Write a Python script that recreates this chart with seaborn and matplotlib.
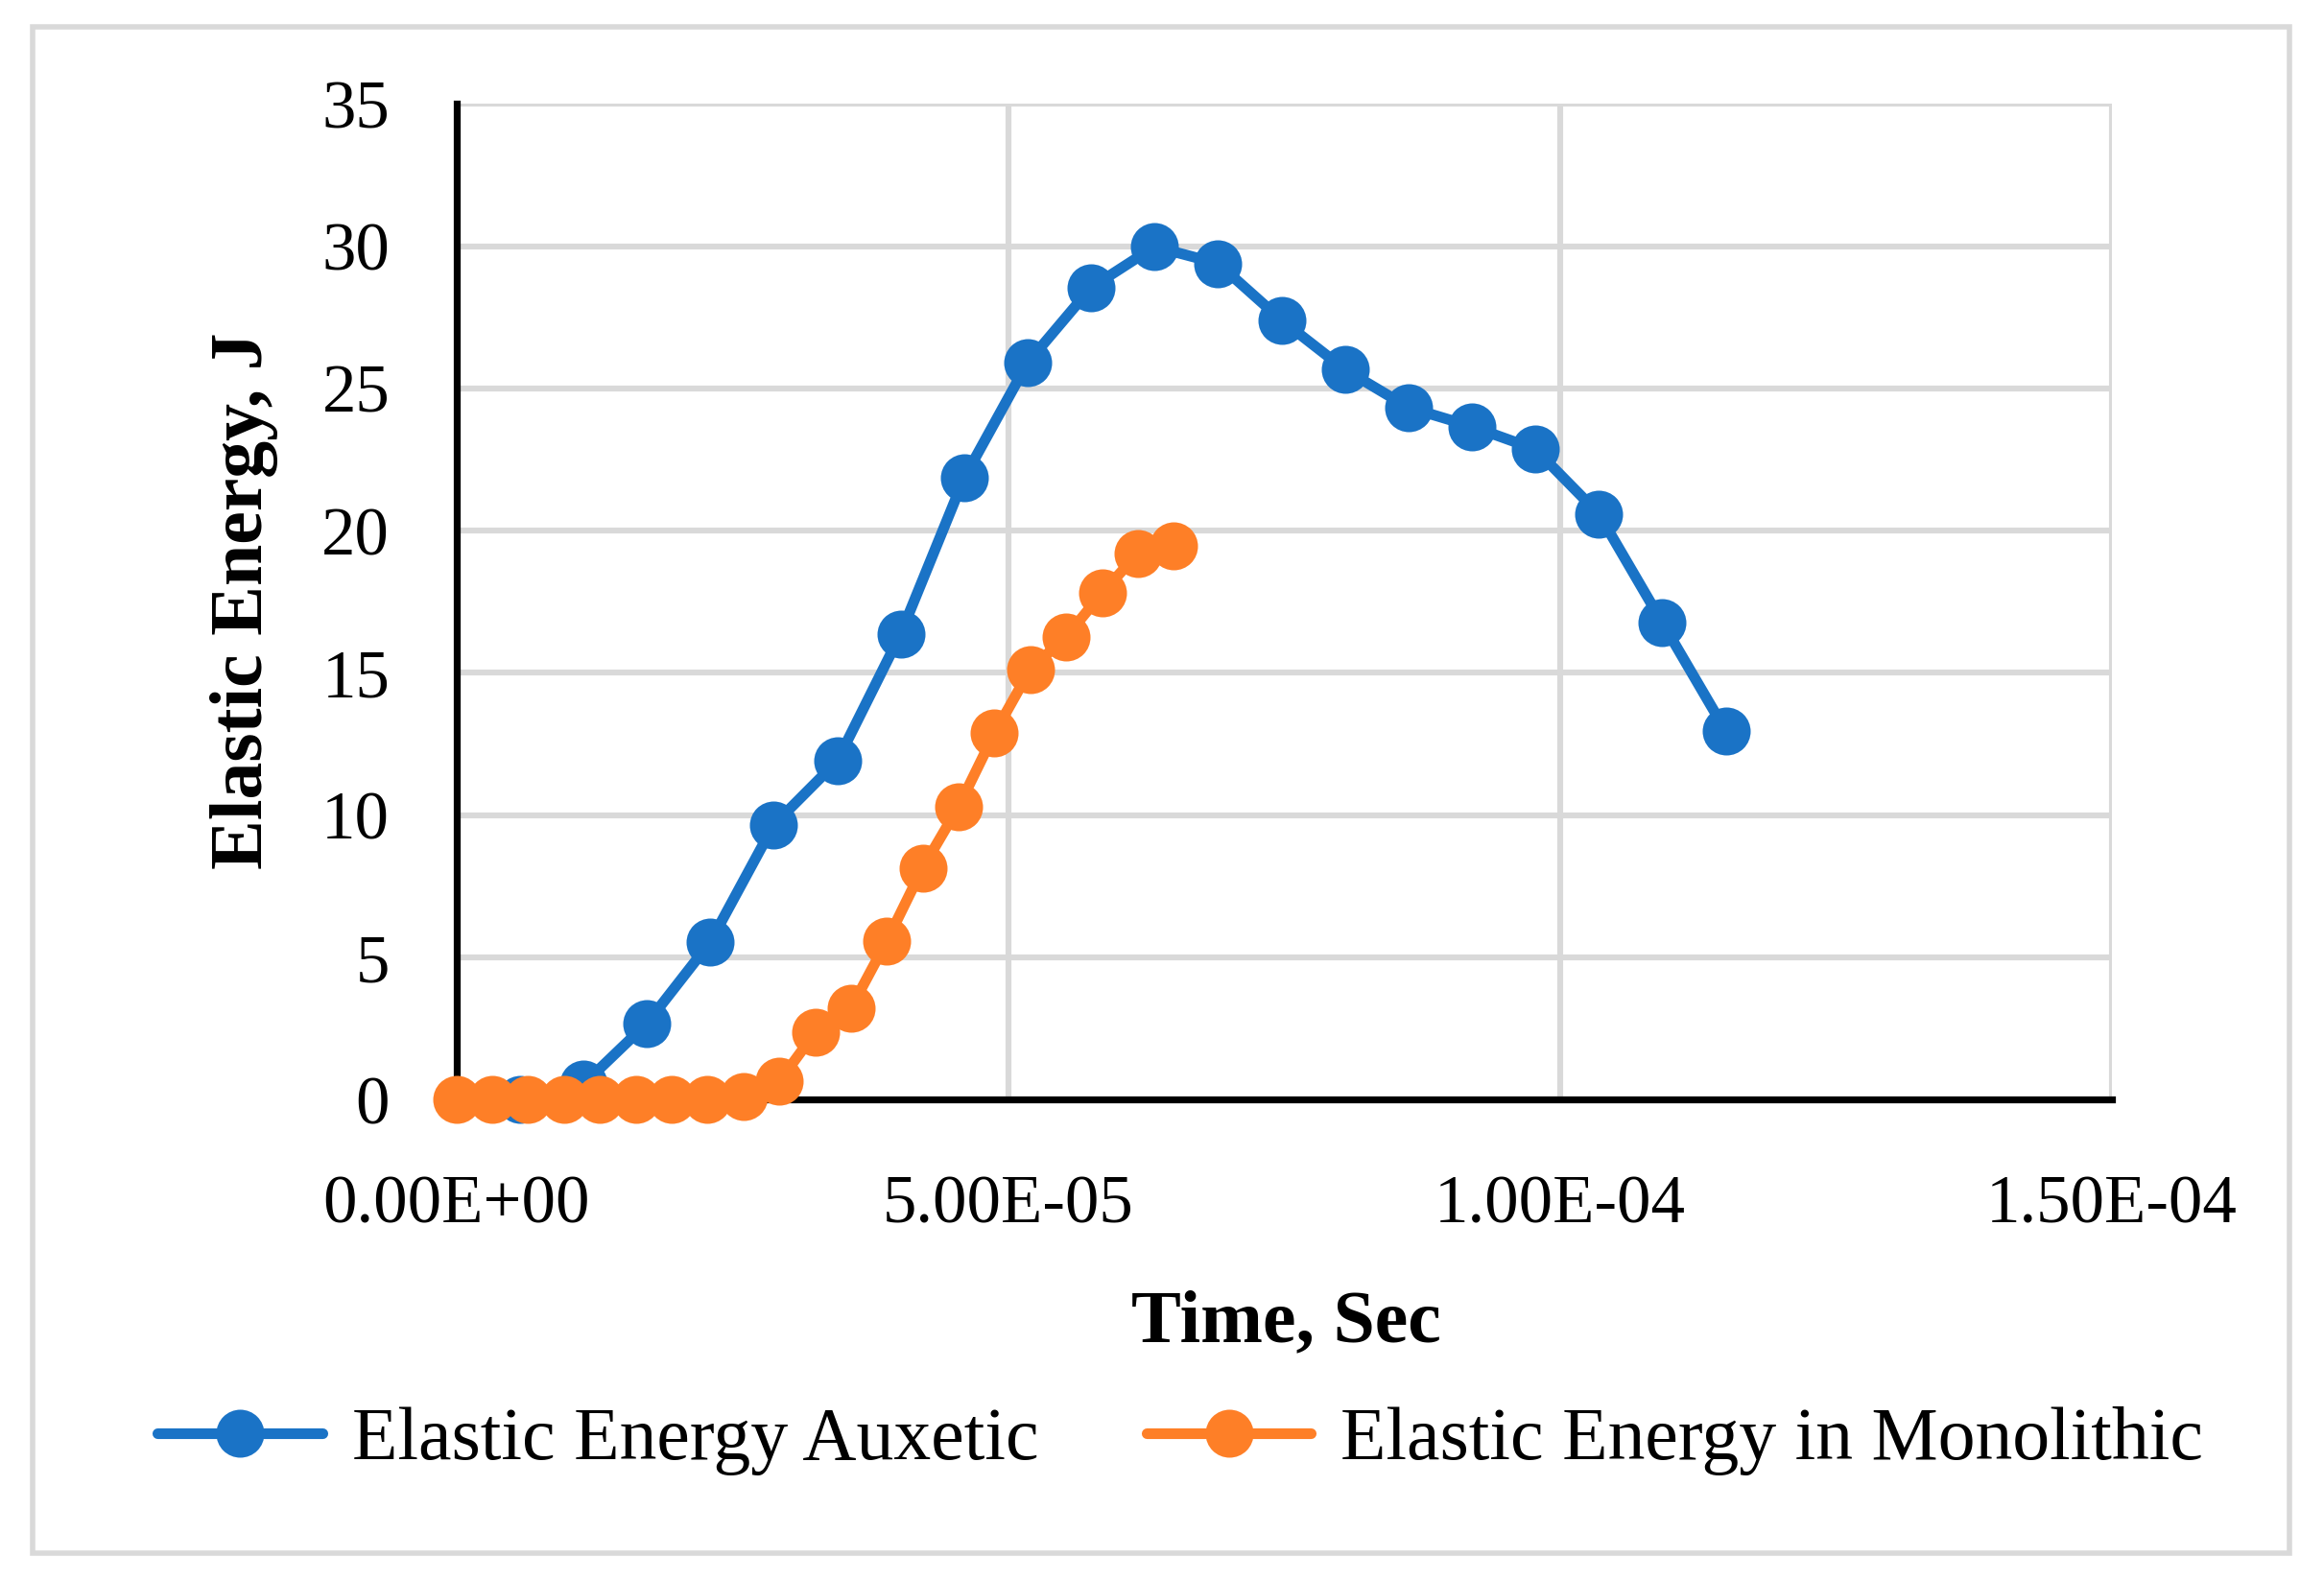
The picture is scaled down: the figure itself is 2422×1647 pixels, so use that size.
import matplotlib
matplotlib.use("Agg")
import matplotlib.pyplot as plt
import seaborn as sns
import pandas as pd
from matplotlib.patches import Rectangle

# ---- data ----
auxetic_time = [5.75e-6 * k for k in range(1, 21)]
auxetic_energy = [0.0, 0.54, 2.68, 5.54, 9.66, 11.9, 16.37, 21.85, 25.9, 28.54,
                  29.98, 29.39, 27.40, 25.66, 24.33, 23.66, 22.86, 20.59, 16.77, 12.96]
mono_time = [3.25e-6 * k for k in range(0, 21)]
mono_energy = [0.0, 0.0, 0.0, 0.0, 0.0, 0.0, 0.0, 0.0, 0.1, 0.64,
               2.36, 3.22, 5.58, 8.15, 10.3, 12.88, 15.13, 16.27, 17.81, 19.2, 19.46]
x_ticks = [0.0, 5e-5, 1e-4, 1.5e-4]
x_tick_labels = ["0.00E+00", "5.00E-05", "1.00E-04", "1.50E-04"]
y_ticks = [0, 5, 10, 15, 20, 25, 30, 35]
series_names = ["Elastic Energy Auxetic", "Elastic Energy in Monolithic"]
colors = ["#1A73C6", "#FE7F27"]

df_a = pd.DataFrame({"t": auxetic_time, "E": auxetic_energy})
df_m = pd.DataFrame({"t": mono_time, "E": mono_energy})

sns.set_theme(style="white")
plt.rcParams["font.family"] = ["Liberation Serif", "DejaVu Serif"]
plt.rcParams["text.color"] = "black"

fig = plt.figure(figsize=(12.11, 8.235), dpi=200)
ax = fig.add_axes([0.1964, 0.304, 0.7124, 0.6303])

# outer border
fig.patches.append(Rectangle((0.014, 0.017), 0.9713, 0.966, transform=fig.transFigure,
                             fill=False, edgecolor="#d9d9d9", linewidth=2.0))

sns.lineplot(data=df_a, x="t", y="E", ax=ax, color=colors[0], marker="o",
             markersize=18, linewidth=4.0, markeredgewidth=0, label=series_names[0],
             zorder=3, clip_on=False)
sns.lineplot(data=df_m, x="t", y="E", ax=ax, color=colors[1], marker="o",
             markersize=18, linewidth=4.0, markeredgewidth=0, label=series_names[1],
             zorder=4, clip_on=False)

ax.set_xlim(0, 1.5e-4)
ax.set_ylim(0, 35)
ax.set_xticks(x_ticks)
ax.set_xticklabels(x_tick_labels)
ax.set_yticks(y_ticks)
ax.set_yticklabels([str(v) for v in y_ticks])
ax.tick_params(axis="x", length=0, pad=28, labelsize=25.5, colors="black")
ax.tick_params(axis="y", length=0, pad=25, labelsize=25.5, colors="black")

ax.grid(True, color="#d9d9d9", linewidth=2.2)
ax.set_axisbelow(True)
for s in ["top", "right"]:
    ax.spines[s].set_visible(False)
for s in ["left", "bottom"]:
    ax.spines[s].set_color("black")
    ax.spines[s].set_linewidth(2.6)
    ax.spines[s].set_zorder(2.5)

ax.set_xlabel("Time, Sec", fontsize=28, fontweight="bold", color="black")
ax.set_ylabel("Elastic Energy, J", fontsize=28, fontweight="bold", color="black")
ax.xaxis.set_label_coords(0.5014, -0.2248)
ax.xaxis.label.set_va("center")
ax.yaxis.set_label_coords(-0.128, 0.501)
ax.yaxis.label.set_va("center")

ax.get_legend().remove()
handles, labels = ax.get_legend_handles_labels()
leg = fig.legend(handles, labels, loc="center", bbox_to_anchor=(0.508, 0.088), ncol=2,
                 frameon=False, fontsize=28, handlelength=2.2, handletextpad=0.4,
                 columnspacing=1.45)
for t in leg.get_texts():
    t.set_color("black")

fig.savefig("out.png", dpi=200, facecolor="white")
